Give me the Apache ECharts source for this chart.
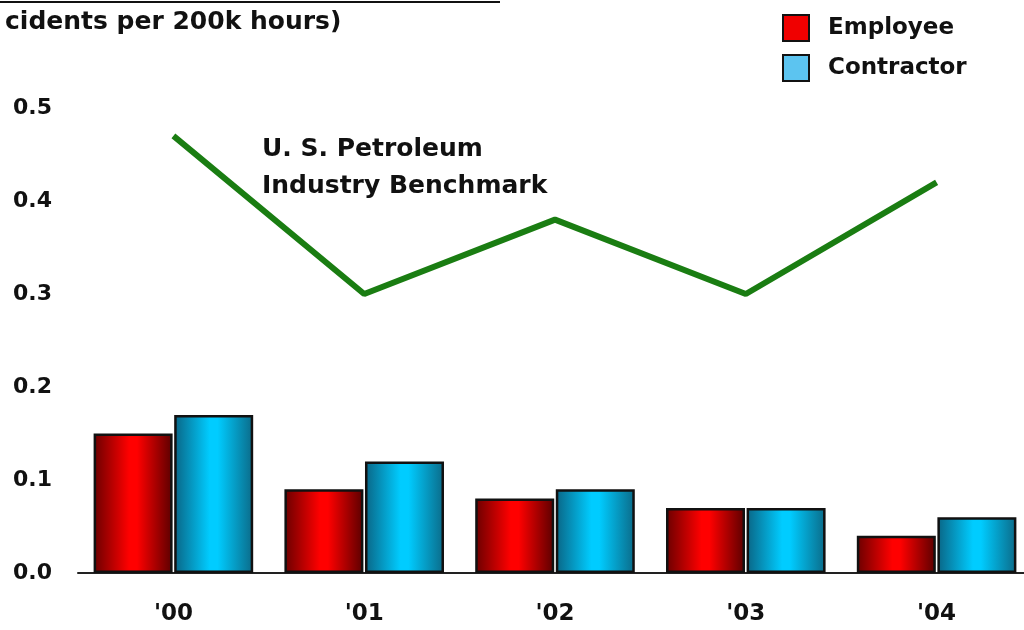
<!DOCTYPE html>
<html>
<head>
<meta charset="utf-8">
<script src="https://cdn.jsdelivr.net/npm/echarts@6/dist/echarts.min.js"></script>
<style>
  html, body { margin: 0; padding: 0; background: #fff; }
  #chart { width: 1024px; height: 630px; }
</style>
</head>
<body>
<div id="chart"></div>
<script>
const years = ["'00", "'01", "'02", "'03", "'04"];
const employee = [0.15, 0.09, 0.08, 0.07, 0.04];
const contractor = [0.17, 0.12, 0.09, 0.07, 0.06];
const benchmark = [0.47, 0.30, 0.38, 0.30, 0.42];

const wide = "DejaVu Sans, Verdana, sans-serif";

function barGrad(edgeL, mid, edgeR) {
  return new echarts.graphic.LinearGradient(0, 0, 1, 0, [
    { offset: 0, color: edgeL },
    { offset: 0.45, color: mid },
    { offset: 0.55, color: mid },
    { offset: 1, color: edgeR },
  ]);
}

const chart = echarts.init(document.getElementById("chart"));
chart.setOption({
  animation: false,
  backgroundColor: "#fff",
  title: {
    text: "cidents per 200k hours)",
    left: 5,
    top: 10,
    padding: 0,
    textStyle: { fontFamily: wide, fontSize: 25, fontWeight: "bold", color: "#111" },
  },
  legend: {
    orient: "vertical",
    left: 782,
    top: 14,
    padding: 0,
    itemWidth: 26,
    itemHeight: 26,
    itemGap: 12,
    icon: "rect",
    data: [
      { name: "Employee", itemStyle: { color: "#f00000", borderColor: "#111", borderWidth: 2 } },
      { name: "Contractor", itemStyle: { color: "#5cc4f0", borderColor: "#111", borderWidth: 2 } },
    ],
    textStyle: { fontFamily: wide, fontSize: 23, fontWeight: "bold", color: "#111", padding: [0, 0, 0, 14] },
  },
  grid: {
    left: 78,
    top: 108,
    width: 954,
    height: 465,
    outerBoundsMode: "none",
  },
  xAxis: {
    type: "category",
    data: years,
    axisLine: { lineStyle: { color: "#222", width: 2 } },
    axisTick: { show: false },
    axisLabel: {
      fontFamily: wide,
      fontSize: 23,
      fontWeight: "bold",
      color: "#111",
      margin: 30,
    },
  },
  yAxis: {
    type: "value",
    min: 0,
    max: 0.5,
    interval: 0.1,
    splitLine: { show: false },
    axisLine: { show: false },
    axisTick: { show: false },
    axisLabel: {
      fontFamily: wide,
      fontSize: 22,
      fontWeight: "bold",
      color: "#111",
      margin: 26,
      formatter(val) {
        return val.toFixed(1);
      },
    },
  },
  graphic: [
    {
      type: "line",
      shape: { x1: 0, y1: 2, x2: 500, y2: 2 },
      style: { stroke: "#111", lineWidth: 2 },
    },
    {
      type: "text",
      left: 262,
      top: 131,
      style: {
        text: "U. S. Petroleum\nIndustry Benchmark",
        fontFamily: wide,
        fontSize: 25,
        fontWeight: "bold",
        fill: "#111",
        lineHeight: 37,
      },
    },
  ],
  series: [
    {
      name: "Employee",
      type: "bar",
      data: employee,
      barWidth: 79,
      barGap: "2%",
      itemStyle: {
        color: barGrad("#6a0000", "#ff0000", "#5a0000"),
        borderColor: "#111",
        borderWidth: 2.5,
      },
    },
    {
      name: "Contractor",
      type: "bar",
      data: contractor,
      barWidth: 79,
      itemStyle: {
        color: barGrad("#0a6585", "#00ccff", "#0b6a88"),
        borderColor: "#111",
        borderWidth: 2.5,
      },
    },
    {
      name: "Benchmark",
      type: "line",
      data: benchmark,
      symbol: "none",
      lineStyle: { color: "#1a7d12", width: 6 },
      z: 5,
    },
  ],
});
</script>
</body>
</html>
